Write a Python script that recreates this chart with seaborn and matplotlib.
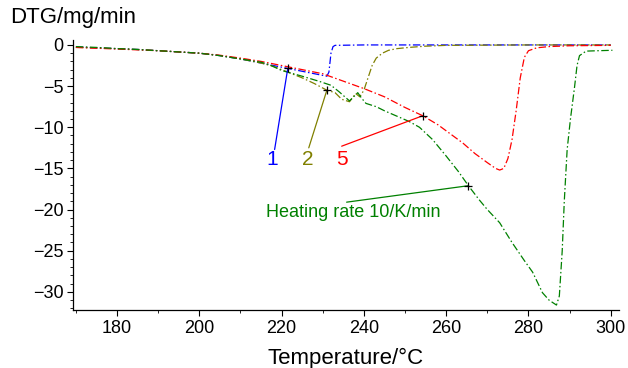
import numpy as np
import pandas as pd
import matplotlib
matplotlib.use("Agg")
import matplotlib.pyplot as plt
import seaborn as sns
from matplotlib.ticker import MultipleLocator

# ---- data ----
t_blue = [170, 175, 180, 185, 190, 195, 200, 205, 210, 215, 219, 221.5, 225, 228, 230, 231,
          231.5, 232, 232.5, 233, 240, 260, 280, 300]
v_blue = [-0.25, -0.35, -0.45, -0.55, -0.7, -0.85, -1.0, -1.3, -1.7, -2.2, -2.6, -2.85, -3.2, -3.5,
          -3.7, -3.8, -3.3, -1.0, -0.2, -0.05, 0.0, 0.0, 0.0, 0.0]

t_olive = [170, 175, 180, 185, 190, 195, 200, 205, 210, 215, 218, 220, 222, 225, 228, 231, 233,
           234.6, 236.5, 238, 239, 240, 241, 242, 243, 244.5, 246, 248, 251, 255, 260, 280, 300]
v_olive = [-0.3, -0.35, -0.45, -0.55, -0.7, -0.85, -1.0, -1.3, -1.7, -2.2, -2.6, -3.0, -3.4, -4.0,
           -4.7, -5.5, -5.8, -6.6, -6.9, -5.9, -6.3, -5.5, -4.0, -2.5, -1.6, -1.0, -0.65, -0.45,
           -0.3, -0.15, -0.05, 0.0, 0.0]

t_red = [170, 175, 180, 185, 190, 195, 200, 205, 210, 215, 220, 225, 230, 235, 240, 245, 250,
         254.3, 258, 261, 264, 267, 270, 272, 273, 274, 275, 276, 277, 278, 279, 280, 282, 285,
         290, 300]
v_red = [-0.3, -0.4, -0.5, -0.6, -0.7, -0.85, -1.0, -1.25, -1.6, -2.0, -2.5, -3.0, -3.5, -4.4,
         -5.3, -6.3, -7.6, -8.6, -9.7, -10.8, -11.9, -13.2, -14.3, -15.0, -15.2, -15.0, -13.8,
         -11.5, -8.0, -4.0, -1.5, -0.7, -0.35, -0.2, -0.1, -0.05]

t_green = [170, 175, 180, 185, 190, 195, 200, 205, 210, 215, 217, 220, 225, 229, 232, 234,
           236.5, 237.5, 238.5, 239.5, 240.5, 243, 245, 248.7, 251, 253.5, 256.7, 260, 263,
           265.4, 268, 270, 273, 276, 279, 281, 283.4, 285, 286.8, 287.5, 288.2, 288.7, 289.4,
           290.2, 291.2, 291.8, 292.4, 294, 297, 300.4]
v_green = [-0.2, -0.3, -0.45, -0.55, -0.7, -0.85, -1.0, -1.3, -1.7, -2.1, -2.4, -3.1, -3.8,
           -4.4, -4.9, -5.7, -6.8, -6.3, -5.8, -6.5, -7.1, -7.5, -8.0, -8.8, -9.3, -10.0, -11.5,
           -13.5, -15.4, -17.1, -18.8, -20.0, -21.6, -24.0, -26.2, -27.6, -30.1, -31.0, -31.6,
           -30.5, -25.0, -19.0, -12.7, -9.0, -5.1, -2.5, -1.3, -0.75, -0.7, -0.65]

series_names = ["1", "2", "5", "10"]
series_colors = ["#0000ff", "#808000", "#ff0000", "#008000"]

# annotation labels, marker points and label anchor points
ann_texts = ["1", "2", "5", "Heating rate 10/K/min"]
ann_marker_t = [221.5, 231.0, 254.3, 265.4]
ann_marker_v = [-2.85, -5.5, -8.6, -17.1]
ann_text_t = [217.6, 226.3, 234.6, 237.3]
ann_text_v = [-13.9, -13.9, -13.9, -20.4]
ann_line_t = [218.3, 226.6, 234.6, 235.8]
ann_line_v = [-12.7, -12.5, -12.3, -19.1]
ann_sizes = [15, 15, 15, 13]

frames = []
for name, t, v in zip(series_names, [t_blue, t_olive, t_red, t_green],
                      [v_blue, v_olive, v_red, v_green]):
    frames.append(pd.DataFrame({"T": t, "DTG": v, "rate": name}))
df = pd.concat(frames, ignore_index=True)

sns.set_theme(style="ticks")
plt.rcParams["font.family"] = ["Liberation Sans", "DejaVu Sans"]

fig = plt.figure(figsize=(6.28, 3.68), dpi=100)
ax = fig.add_axes([73 / 628, 1 - 310 / 368, (619 - 73) / 628, (310 - 40) / 368])

for name, col in zip(series_names, series_colors):
    sub = df[df["rate"] == name]
    sns.lineplot(data=sub, x="T", y="DTG", ax=ax, color=col, lw=0.9, sort=False,
                 estimator=None, legend=False)
for line in ax.get_lines():
    line.set_dashes([6, 2, 1.2, 2])

for txt, mt, mv, tt, tv, lt, lv, col, fs in zip(ann_texts, ann_marker_t, ann_marker_v,
                                                ann_text_t, ann_text_v, ann_line_t, ann_line_v,
                                                series_colors, ann_sizes):
    ax.plot([lt, mt], [lv, mv], color=col, lw=0.9)
    ax.plot([mt], [mv], marker="+", color="black", ms=6, mew=0.9, ls="none")
    ax.text(tt, tv, txt, color=col, fontsize=fs, ha="center", va="center")

ax.set_xlim(169.3, 302)
ax.set_ylim(-32.2, 0.6)
ax.xaxis.set_major_locator(MultipleLocator(20))
ax.xaxis.set_minor_locator(MultipleLocator(10))
ax.yaxis.set_major_locator(MultipleLocator(5))
ax.yaxis.set_minor_locator(MultipleLocator(1))
ax.tick_params(axis="both", which="major", labelsize=13, length=4, width=0.8, pad=3,
               color="black", labelcolor="black")
ax.tick_params(axis="both", which="minor", length=2, width=0.6, color="black")
ax.set_yticks([0, -5, -10, -15, -20, -25, -30])
ax.set_yticklabels(["0", "\u22125", "\u221210", "\u221215", "\u221220", "\u221225", "\u221230"])
sns.despine(ax=ax)
for s in ["left", "bottom"]:
    ax.spines[s].set_linewidth(0.9)
    ax.spines[s].set_color("black")

ax.set_xlabel("Temperature/\u00b0C", fontsize=16, labelpad=8, color="black")
ax.set_ylabel("")
fig.text(10 / 628, 1 - 18 / 368, "DTG/mg/min", fontsize=16, ha="left", va="center",
         color="black")

fig.savefig("out.png", dpi=100)
